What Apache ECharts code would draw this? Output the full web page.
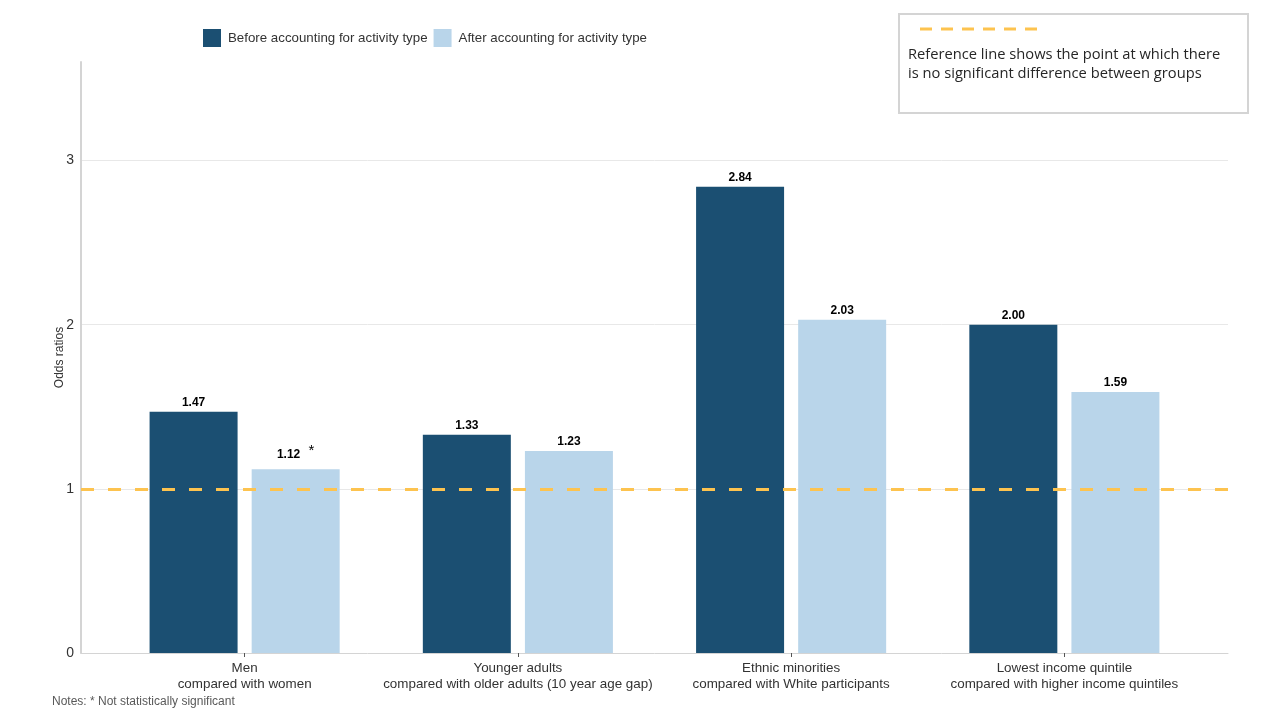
<!DOCTYPE html>
<html>
<head>
<meta charset="utf-8">
<script src="https://cdn.jsdelivr.net/npm/echarts@6/dist/echarts.min.js"></script>
<style>html,body{margin:0;padding:0;background:#fff;}#c{width:1280px;height:720px;}</style>
</head>
<body>
<div id="c"></div>
<script>
const categories = [
  'Men\ncompared with women',
  'Younger adults\ncompared with older adults (10 year age gap)',
  'Ethnic minorities\ncompared with White participants',
  'Lowest income quintile\ncompared with higher income quintiles'
];
const beforeValues = [1.47, 1.33, 2.84, 2.00];
const afterValues = [1.12, 1.23, 2.03, 1.59];
const afterNotes = ['*', '', '', ''];
const yTicks = [0, 1, 2, 3];
const gridLineValues = [1, 2, 3];
const referenceValue = 1;
const seriesNames = ['Before accounting for activity type', 'After accounting for activity type'];
const notesText = 'Notes: * Not statistically significant';
const boxText = 'Reference line shows the point at which there\nis no significant difference between groups';

const DARK = '#1b4f72';
const LIGHT = '#b9d5ea';
const REF = '#fdc34f';
const FONT = '"Liberation Sans", Arial, sans-serif';

const chart = echarts.init(document.getElementById('c'));
const labelBase = {
  show: true, position: 'top', distance: 3,
  fontFamily: FONT, fontSize: 12, fontWeight: 'bold', color: '#000'
};
chart.setOption({
  animation: false,
  textStyle: { fontFamily: FONT },
  legend: {
    data: seriesNames,
    left: 203, top: 29, padding: 0,
    itemWidth: 18, itemHeight: 18, itemGap: 6,
    icon: 'rect',
    textStyle: { fontFamily: FONT, fontSize: 13.3, color: '#333', padding: [0, 0, 0, 2] }
  },
  grid: [
    { left: 108, right: 79, top: 62, bottom: 67 },
    { left: 81, right: 52, top: 62, bottom: 67 }
  ],
  xAxis: [
    {
      type: 'category', gridIndex: 0, data: categories,
      axisLine: { show: false },
      axisTick: { show: true, alignWithLabel: true, length: 4, lineStyle: { color: '#555' } },
      axisLabel: { fontFamily: FONT, fontSize: 13.4, color: '#333', lineHeight: 16, margin: 7, interval: 0 }
    },
    {
      type: 'value', gridIndex: 1, min: 0, max: 1,
      axisLine: { show: true, lineStyle: { color: '#d4d4d4', width: 1 } },
      axisTick: { show: false }, axisLabel: { show: false }, splitLine: { show: false }
    }
  ],
  yAxis: [
    { type: 'value', gridIndex: 0, min: 0, max: 3.6, show: false, splitLine: { show: false } },
    {
      type: 'value', gridIndex: 1, min: 0, max: 3.6, interval: 1,
      name: 'Odds ratios', nameLocation: 'middle', nameRotate: 90, nameGap: 15,
      nameMoveOverlap: false,
      nameTextStyle: { fontFamily: FONT, fontSize: 12, color: '#333' },
      axisLine: { show: true, lineStyle: { color: '#d4d4d4', width: 2 } },
      axisTick: { show: false },
      axisLabel: {
        fontFamily: FONT, fontSize: 14, color: '#333', margin: 7,
        formatter: v => (yTicks.indexOf(v) >= 0 ? String(v) : '')
      },
      splitLine: { show: false }
    }
  ],
  series: [
    {
      name: 'grid', type: 'line', xAxisIndex: 1, yAxisIndex: 1, data: [], z: 0,
      markLine: {
        silent: true, symbol: 'none', label: { show: false }, z: 0,
        lineStyle: { color: '#e8e8e8', width: 1, type: 'solid' },
        data: gridLineValues.map(v => ({ yAxis: v }))
      }
    },
    {
      name: seriesNames[0], type: 'bar', xAxisIndex: 0, yAxisIndex: 0,
      data: beforeValues, barWidth: 88, barGap: '16%',
      itemStyle: { color: DARK },
      label: Object.assign({}, labelBase, { formatter: p => p.value.toFixed(2) })
    },
    {
      name: seriesNames[1], type: 'bar', xAxisIndex: 0, yAxisIndex: 0,
      data: afterValues, barWidth: 88, barGap: '16%',
      itemStyle: { color: LIGHT },
      label: Object.assign({}, labelBase, {
        formatter: p => afterNotes[p.dataIndex] ? '{v|' + p.value.toFixed(2) + '}{s|  ' + afterNotes[p.dataIndex] + '}' : '{v|' + p.value.toFixed(2) + '}',
        rich: {
          v: { fontFamily: FONT, fontSize: 12, fontWeight: 'bold', color: '#000' },
          s: { fontFamily: FONT, fontSize: 15, fontWeight: 'normal', color: '#000', verticalAlign: 'top', padding: [0, 0, 8, 0] }
        }
      })
    },
    {
      name: 'ref', type: 'line', xAxisIndex: 1, yAxisIndex: 1, data: [], z: 10,
      markLine: {
        silent: true, symbol: 'none', label: { show: false },
        lineStyle: { color: REF, width: 3, type: [13, 14] },
        data: [{ yAxis: referenceValue }]
      }
    }
  ],
  graphic: [
    {
      type: 'rect', left: 898, top: 13, z: 20,
      shape: { width: 349, height: 99 },
      style: { fill: '#fff', stroke: '#d4d4d4', lineWidth: 2 }
    },
    {
      type: 'line', z: 21,
      shape: { x1: 920, y1: 29, x2: 1037, y2: 29 },
      style: { stroke: REF, lineWidth: 3, lineDash: [12, 9] }
    },
    {
      type: 'text', left: 908, top: 45, z: 21,
      style: { text: boxText, fontFamily: '"Open Sans", "Noto Sans", sans-serif', fontSize: 14.7, lineHeight: 19, fill: '#262626' }
    },
    {
      type: 'text', left: 52, top: 696, z: 21,
      style: { text: notesText, fontFamily: FONT, fontSize: 12, fill: '#595959' }
    }
  ]
});
</script>
</body>
</html>
